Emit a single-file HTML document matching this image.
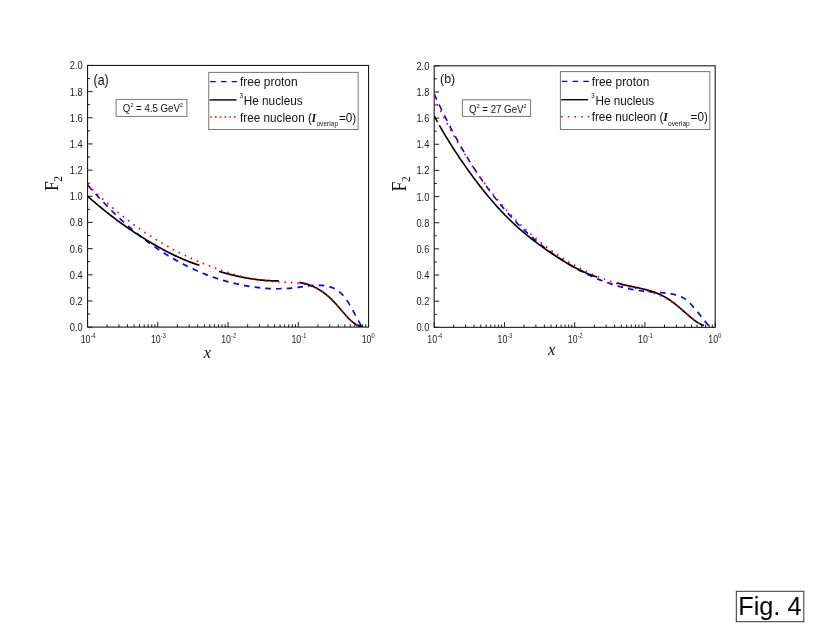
<!DOCTYPE html>
<html><head><meta charset="utf-8"><title>Fig. 4</title>
<style>
html,body{margin:0;padding:0;background:#fff;}
body{width:830px;height:642px;position:relative;overflow:hidden;font-family:"Liberation Sans",sans-serif;}
svg text{font-kerning:normal;}
</style></head><body>
<svg width="830" height="642" viewBox="0 0 830 642" style="position:absolute;left:0;top:0;will-change:transform">
<rect x="0" y="0" width="830" height="642" fill="#fff"/>
<g font-family="Liberation Sans, sans-serif">
<path d="M87.55,327.10h5M87.55,314.02h2.6M87.55,300.94h5M87.55,287.85h2.6M87.55,274.77h5M87.55,261.69h2.6M87.55,248.61h5M87.55,235.52h2.6M87.55,222.44h5M87.55,209.36h2.6M87.55,196.28h5M87.55,183.19h2.6M87.55,170.11h5M87.55,157.03h2.6M87.55,143.95h5M87.55,130.86h2.6M87.55,117.78h5M87.55,104.70h2.6M87.55,91.61h5M87.55,78.53h2.6M87.55,65.45h5M87.55,327.10v-5.2M107.13,327.10v-2.8M118.96,327.10v-2.8M127.47,327.10v-2.8M134.11,327.10v-2.8M139.56,327.10v-2.8M144.18,327.10v-2.8M148.20,327.10v-2.8M151.75,327.10v-2.8M154.92,327.10v-2.8M157.80,327.10v-5.2M177.38,327.10v-2.8M189.21,327.10v-2.8M197.72,327.10v-2.8M204.36,327.10v-2.8M209.81,327.10v-2.8M214.43,327.10v-2.8M218.45,327.10v-2.8M222.00,327.10v-2.8M225.17,327.10v-2.8M228.05,327.10v-5.2M247.63,327.10v-2.8M259.46,327.10v-2.8M267.97,327.10v-2.8M274.61,327.10v-2.8M280.06,327.10v-2.8M284.68,327.10v-2.8M288.70,327.10v-2.8M292.25,327.10v-2.8M295.42,327.10v-2.8M298.30,327.10v-5.2M317.88,327.10v-2.8M329.71,327.10v-2.8M338.22,327.10v-2.8M344.86,327.10v-2.8M350.31,327.10v-2.8M354.93,327.10v-2.8M358.95,327.10v-2.8M362.50,327.10v-2.8M365.67,327.10v-2.8M368.55,327.10v-5.2" stroke="#1a1a1a" stroke-width="1" fill="none"/>
<rect x="87.55" y="65.45" width="281.00" height="261.65" fill="none" stroke="#1a1a1a" stroke-width="1.1"/>
<text transform="translate(82.65 331.10) scale(0.93 1)" text-anchor="end" font-size="10" fill="#1a1a1a">0.0</text>
<text transform="translate(82.65 304.94) scale(0.93 1)" text-anchor="end" font-size="10" fill="#1a1a1a">0.2</text>
<text transform="translate(82.65 278.77) scale(0.93 1)" text-anchor="end" font-size="10" fill="#1a1a1a">0.4</text>
<text transform="translate(82.65 252.61) scale(0.93 1)" text-anchor="end" font-size="10" fill="#1a1a1a">0.6</text>
<text transform="translate(82.65 226.44) scale(0.93 1)" text-anchor="end" font-size="10" fill="#1a1a1a">0.8</text>
<text transform="translate(82.65 200.28) scale(0.93 1)" text-anchor="end" font-size="10" fill="#1a1a1a">1.0</text>
<text transform="translate(82.65 174.11) scale(0.93 1)" text-anchor="end" font-size="10" fill="#1a1a1a">1.2</text>
<text transform="translate(82.65 147.95) scale(0.93 1)" text-anchor="end" font-size="10" fill="#1a1a1a">1.4</text>
<text transform="translate(82.65 121.78) scale(0.93 1)" text-anchor="end" font-size="10" fill="#1a1a1a">1.6</text>
<text transform="translate(82.65 95.61) scale(0.93 1)" text-anchor="end" font-size="10" fill="#1a1a1a">1.8</text>
<text transform="translate(82.65 69.45) scale(0.93 1)" text-anchor="end" font-size="10" fill="#1a1a1a">2.0</text>
<text transform="translate(80.65 342.70) scale(0.88 1)" font-size="10" fill="#1a1a1a">10<tspan font-size="6.3" dy="-5.2" dx="0.2">-4</tspan></text>
<text transform="translate(150.90 342.70) scale(0.88 1)" font-size="10" fill="#1a1a1a">10<tspan font-size="6.3" dy="-5.2" dx="0.2">-3</tspan></text>
<text transform="translate(221.15 342.70) scale(0.88 1)" font-size="10" fill="#1a1a1a">10<tspan font-size="6.3" dy="-5.2" dx="0.2">-2</tspan></text>
<text transform="translate(291.40 342.70) scale(0.88 1)" font-size="10" fill="#1a1a1a">10<tspan font-size="6.3" dy="-5.2" dx="0.2">-1</tspan></text>
<text transform="translate(361.65 342.70) scale(0.88 1)" font-size="10" fill="#1a1a1a">10<tspan font-size="6.3" dy="-5.2" dx="0.2">0</tspan></text>
<path d="M434.20,327.35h5M434.20,314.27h2.6M434.20,301.20h5M434.20,288.12h2.6M434.20,275.04h5M434.20,261.96h2.6M434.20,248.89h5M434.20,235.81h2.6M434.20,222.73h5M434.20,209.65h2.6M434.20,196.58h5M434.20,183.50h2.6M434.20,170.42h5M434.20,157.34h2.6M434.20,144.27h5M434.20,131.19h2.6M434.20,118.11h5M434.20,105.03h2.6M434.20,91.96h5M434.20,78.88h2.6M434.20,65.80h5M434.20,327.35v-5.2M453.78,327.35v-2.8M465.61,327.35v-2.8M474.12,327.35v-2.8M480.76,327.35v-2.8M486.21,327.35v-2.8M490.83,327.35v-2.8M494.85,327.35v-2.8M498.40,327.35v-2.8M501.57,327.35v-2.8M504.45,327.35v-5.2M524.03,327.35v-2.8M535.86,327.35v-2.8M544.37,327.35v-2.8M551.01,327.35v-2.8M556.46,327.35v-2.8M561.08,327.35v-2.8M565.10,327.35v-2.8M568.65,327.35v-2.8M571.82,327.35v-2.8M574.70,327.35v-5.2M594.28,327.35v-2.8M606.11,327.35v-2.8M614.62,327.35v-2.8M621.26,327.35v-2.8M626.71,327.35v-2.8M631.33,327.35v-2.8M635.35,327.35v-2.8M638.90,327.35v-2.8M642.07,327.35v-2.8M644.95,327.35v-5.2M664.53,327.35v-2.8M676.36,327.35v-2.8M684.87,327.35v-2.8M691.51,327.35v-2.8M696.96,327.35v-2.8M701.58,327.35v-2.8M705.60,327.35v-2.8M709.15,327.35v-2.8M712.32,327.35v-2.8M715.20,327.35v-5.2" stroke="#1a1a1a" stroke-width="1" fill="none"/>
<rect x="434.20" y="65.80" width="281.00" height="261.55" fill="none" stroke="#1a1a1a" stroke-width="1.1"/>
<text transform="translate(429.30 331.35) scale(0.93 1)" text-anchor="end" font-size="10" fill="#1a1a1a">0.0</text>
<text transform="translate(429.30 305.20) scale(0.93 1)" text-anchor="end" font-size="10" fill="#1a1a1a">0.2</text>
<text transform="translate(429.30 279.04) scale(0.93 1)" text-anchor="end" font-size="10" fill="#1a1a1a">0.4</text>
<text transform="translate(429.30 252.89) scale(0.93 1)" text-anchor="end" font-size="10" fill="#1a1a1a">0.6</text>
<text transform="translate(429.30 226.73) scale(0.93 1)" text-anchor="end" font-size="10" fill="#1a1a1a">0.8</text>
<text transform="translate(429.30 200.58) scale(0.93 1)" text-anchor="end" font-size="10" fill="#1a1a1a">1.0</text>
<text transform="translate(429.30 174.42) scale(0.93 1)" text-anchor="end" font-size="10" fill="#1a1a1a">1.2</text>
<text transform="translate(429.30 148.27) scale(0.93 1)" text-anchor="end" font-size="10" fill="#1a1a1a">1.4</text>
<text transform="translate(429.30 122.11) scale(0.93 1)" text-anchor="end" font-size="10" fill="#1a1a1a">1.6</text>
<text transform="translate(429.30 95.96) scale(0.93 1)" text-anchor="end" font-size="10" fill="#1a1a1a">1.8</text>
<text transform="translate(429.30 69.80) scale(0.93 1)" text-anchor="end" font-size="10" fill="#1a1a1a">2.0</text>
<text transform="translate(427.30 342.95) scale(0.88 1)" font-size="10" fill="#1a1a1a">10<tspan font-size="6.3" dy="-5.2" dx="0.2">-4</tspan></text>
<text transform="translate(497.55 342.95) scale(0.88 1)" font-size="10" fill="#1a1a1a">10<tspan font-size="6.3" dy="-5.2" dx="0.2">-3</tspan></text>
<text transform="translate(567.80 342.95) scale(0.88 1)" font-size="10" fill="#1a1a1a">10<tspan font-size="6.3" dy="-5.2" dx="0.2">-2</tspan></text>
<text transform="translate(638.05 342.95) scale(0.88 1)" font-size="10" fill="#1a1a1a">10<tspan font-size="6.3" dy="-5.2" dx="0.2">-1</tspan></text>
<text transform="translate(708.30 342.95) scale(0.88 1)" font-size="10" fill="#1a1a1a">10<tspan font-size="6.3" dy="-5.2" dx="0.2">0</tspan></text>
</g>
<clipPath id="ca"><rect x="87.55" y="65.45" width="281.0" height="262.05"/></clipPath>
<clipPath id="cb"><rect x="434.2" y="65.8" width="281.00000000000006" height="261.95"/></clipPath>
<g clip-path="url(#ca)"><g transform="scale(0.88 1)">
<path d="M100.00,185.37 L101.96,187.35 L103.91,189.31 L105.87,191.25 L107.83,193.17 L109.78,195.06 L111.74,196.94 L113.70,198.79 L115.65,200.62 L117.61,202.42 L119.57,204.21 L121.53,205.98 L123.48,207.72 L125.44,209.45 L127.40,211.15 L129.35,212.83 L131.31,214.49 L133.27,216.13 L135.22,217.75 L137.18,219.35 L139.14,220.93 L141.09,222.49 L143.05,224.02 L145.01,225.54 L146.96,227.04 L148.92,228.52 L150.88,229.97 L152.83,231.41 L154.79,232.83 L156.75,234.22 L158.70,235.60 L160.66,236.96 L162.62,238.30 L164.58,239.62 L166.53,240.92 L168.49,242.20 L170.45,243.46 L172.40,244.70 L174.36,245.92 L176.32,247.13 L178.27,248.31 L180.23,249.48 L182.19,250.63 L184.14,251.76 L186.10,252.87 L188.06,253.96 L190.01,255.03 L191.97,256.09 L193.93,257.12 L195.88,258.14 L197.84,259.14 L199.80,260.12 L201.76,261.09 L203.71,262.03 L205.67,262.96 L207.63,263.88 L209.58,264.77 L211.54,265.64 L213.50,266.50 L215.45,267.34 L217.41,268.17 L219.37,268.97 L221.32,269.76 L223.28,270.54 L225.24,271.29 L227.19,272.03 L229.15,272.75 L231.11,273.46 L233.06,274.15 L235.02,274.82 L236.98,275.47 L238.94,276.11 L240.89,276.73 L242.85,277.34 L244.81,277.93 L246.76,278.50 L248.72,279.06 L250.68,279.60 L252.63,280.13 L254.59,280.64 L256.55,281.14 L258.50,281.62 L260.46,282.08 L262.42,282.53 L264.37,282.96 L266.33,283.38 L268.29,283.78 L270.24,284.17 L272.20,284.54 L274.16,284.90 L276.11,285.24 L278.07,285.57 L280.03,285.88 L281.99,286.18 L283.94,286.46 L285.90,286.73 L287.86,286.98 L289.81,287.22 L291.77,287.44 L293.73,287.64 L295.68,287.83 L297.64,288.00 L299.60,288.16 L301.55,288.29 L303.51,288.41 L305.47,288.52 L307.42,288.60 L309.38,288.67 L311.34,288.72 L313.29,288.75 L315.25,288.76 L317.21,288.76 L319.17,288.73 L321.12,288.69 L323.08,288.62 L325.04,288.54 L326.99,288.44 L328.95,288.31 L330.91,288.17 L332.86,288.00 L334.82,287.82 L336.78,287.61 L338.73,287.39 L340.69,287.15 L342.65,286.90 L344.60,286.65 L346.56,286.41 L348.52,286.17 L350.47,285.95 L352.43,285.75 L354.39,285.58 L356.35,285.44 L358.30,285.34 L360.26,285.29 L362.22,285.29 L364.17,285.34 L366.13,285.45 L368.09,285.63 L370.04,285.89 L372.00,286.22 L373.96,286.64 L375.91,287.16 L377.87,287.78 L379.83,288.54 L381.78,289.45 L383.74,290.54 L385.70,291.84 L387.65,293.36 L389.61,295.12 L391.57,297.16 L393.52,299.49 L395.48,302.10 L397.44,304.93 L399.40,307.93 L401.35,311.05 L403.31,314.25 L405.27,317.46 L407.22,320.63 L409.18,323.72 L411.14,326.67" fill="none" stroke="#0000ff" stroke-width="1.72" stroke-dasharray="6.4 5.78"/>
<path d="M100.00,196.50 L100.80,197.12 L101.59,197.74 L102.39,198.36 L103.18,198.98 L103.98,199.59 L104.78,200.20 L105.57,200.81 L106.37,201.41 L107.17,202.02 L107.96,202.62 L108.76,203.21 L109.55,203.81 L110.35,204.40 L111.15,204.99 L111.94,205.57 L112.74,206.16 L113.53,206.74 L114.33,207.32 L115.13,207.89 L115.92,208.47 L116.72,209.04 L117.52,209.60 L118.31,210.17 L119.11,210.73 L119.90,211.29 L120.70,211.85 L121.50,212.41 L122.29,212.96 L123.09,213.51 L123.89,214.06 L124.68,214.60 L125.48,215.15 L126.27,215.69 L127.07,216.23 L127.87,216.76 L128.66,217.30 L129.46,217.83 L130.25,218.35 L131.05,218.88 L131.85,219.40 L132.64,219.93 L133.44,220.44 L134.24,220.96 L135.03,221.48 L135.83,221.99 L136.62,222.50 L137.42,223.00 L138.22,223.51 L139.01,224.01 L139.81,224.51 L140.60,225.01 L141.40,225.50 L142.20,226.00 L142.99,226.49 L143.79,226.98 L144.59,227.46 L145.38,227.95 L146.18,228.43 L146.97,228.91 L147.77,229.39 L148.57,229.86 L149.36,230.34 L150.16,230.81 L150.95,231.28 L151.75,231.74 L152.55,232.21 L153.34,232.67 L154.14,233.13 L154.94,233.59 L155.73,234.05 L156.53,234.50 L157.32,234.95 L158.12,235.40 L158.92,235.85 L159.71,236.29 L160.51,236.74 L161.31,237.18 L162.10,237.62 L162.90,238.06 L163.69,238.49 L164.49,238.92 L165.29,239.36 L166.08,239.79 L166.88,240.21 L167.67,240.64 L168.47,241.06 L169.27,241.48 L170.06,241.90 L170.86,242.32 L171.66,242.73 L172.45,243.15 L173.25,243.56 L174.04,243.97 L174.84,244.38 L175.64,244.78 L176.43,245.18 L177.23,245.59 L178.02,245.98 L178.82,246.38 L179.62,246.78 L180.41,247.17 L181.21,247.56 L182.01,247.95 L182.80,248.33 L183.60,248.71 L184.39,249.09 L185.19,249.47 L185.99,249.85 L186.78,250.22 L187.58,250.59 L188.37,250.96 L189.17,251.33 L189.97,251.69 L190.76,252.05 L191.56,252.41 L192.36,252.77 L193.15,253.12 L193.95,253.47 L194.74,253.82 L195.54,254.16 L196.34,254.50 L197.13,254.84 L197.93,255.18 L198.72,255.51 L199.52,255.85 L200.32,256.17 L201.11,256.50 L201.91,256.82 L202.71,257.14 L203.50,257.46 L204.30,257.77 L205.09,258.08 L205.89,258.39 L206.69,258.69 L207.48,259.00 L208.28,259.29 L209.08,259.59 L209.87,259.88 L210.67,260.17 L211.46,260.46 L212.26,260.74 L213.06,261.02 L213.85,261.29 L214.65,261.57 L215.44,261.83 L216.24,262.10 L217.04,262.36 L217.83,262.62 L218.63,262.88 L219.43,263.13 L220.22,263.38 L221.02,263.62 L221.81,263.87 L222.61,264.10 L223.41,264.34 L224.20,264.57 L225.00,264.80 L225.79,265.02 L226.59,265.24" fill="none" stroke="#000000" stroke-width="1.72" />
<path d="M249.09,271.41 L249.52,271.53 L249.94,271.64 L250.37,271.75 L250.79,271.86 L251.22,271.97 L251.65,272.07 L252.07,272.18 L252.50,272.29 L252.92,272.40 L253.35,272.50 L253.78,272.61 L254.20,272.71 L254.63,272.82 L255.05,272.92 L255.48,273.03 L255.91,273.13 L256.33,273.23 L256.76,273.33 L257.18,273.44 L257.61,273.54 L258.04,273.64 L258.46,273.74 L258.89,273.84 L259.31,273.93 L259.74,274.03 L260.17,274.13 L260.59,274.23 L261.02,274.32 L261.44,274.42 L261.87,274.51 L262.30,274.61 L262.72,274.70 L263.15,274.79 L263.57,274.89 L264.00,274.98 L264.43,275.07 L264.85,275.16 L265.28,275.25 L265.70,275.34 L266.13,275.43 L266.56,275.52 L266.98,275.61 L267.41,275.69 L267.83,275.78 L268.26,275.87 L268.68,275.95 L269.11,276.04 L269.54,276.12 L269.96,276.20 L270.39,276.29 L270.81,276.37 L271.24,276.45 L271.67,276.53 L272.09,276.61 L272.52,276.69 L272.94,276.77 L273.37,276.85 L273.80,276.92 L274.22,277.00 L274.65,277.08 L275.07,277.15 L275.50,277.23 L275.93,277.30 L276.35,277.37 L276.78,277.45 L277.20,277.52 L277.63,277.59 L278.06,277.66 L278.48,277.73 L278.91,277.80 L279.33,277.87 L279.76,277.94 L280.19,278.00 L280.61,278.07 L281.04,278.14 L281.46,278.20 L281.89,278.27 L282.32,278.33 L282.74,278.39 L283.17,278.45 L283.59,278.52 L284.02,278.58 L284.45,278.64 L284.87,278.70 L285.30,278.75 L285.72,278.81 L286.15,278.87 L286.58,278.93 L287.00,278.98 L287.43,279.04 L287.85,279.09 L288.28,279.14 L288.70,279.20 L289.13,279.25 L289.56,279.30 L289.98,279.35 L290.41,279.40 L290.83,279.45 L291.26,279.50 L291.69,279.55 L292.11,279.59 L292.54,279.64 L292.96,279.68 L293.39,279.73 L293.82,279.77 L294.24,279.81 L294.67,279.86 L295.09,279.90 L295.52,279.94 L295.95,279.98 L296.37,280.02 L296.80,280.06 L297.22,280.09 L297.65,280.13 L298.08,280.17 L298.50,280.20 L298.93,280.23 L299.35,280.27 L299.78,280.30 L300.21,280.33 L300.63,280.36 L301.06,280.39 L301.48,280.42 L301.91,280.45 L302.34,280.48 L302.76,280.51 L303.19,280.53 L303.61,280.56 L304.04,280.58 L304.47,280.60 L304.89,280.63 L305.32,280.65 L305.74,280.67 L306.17,280.69 L306.60,280.71 L307.02,280.73 L307.45,280.75 L307.87,280.76 L308.30,280.78 L308.72,280.79 L309.15,280.81 L309.58,280.82 L310.00,280.83 L310.43,280.84 L310.85,280.86 L311.28,280.87 L311.71,280.87 L312.13,280.88 L312.56,280.89 L312.98,280.90 L313.41,280.90 L313.84,280.91 L314.26,280.91 L314.69,280.91 L315.11,280.91 L315.54,280.92 L315.97,280.92 L316.39,280.91 L316.82,280.91" fill="none" stroke="#000000" stroke-width="1.72" />
<path d="M340.00,282.50 L340.45,282.55 L340.89,282.60 L341.34,282.66 L341.78,282.72 L342.23,282.78 L342.68,282.85 L343.12,282.92 L343.57,282.99 L344.01,283.07 L344.46,283.15 L344.91,283.24 L345.35,283.32 L345.80,283.41 L346.24,283.51 L346.69,283.61 L347.14,283.71 L347.58,283.81 L348.03,283.92 L348.47,284.04 L348.92,284.15 L349.37,284.27 L349.81,284.40 L350.26,284.52 L350.70,284.66 L351.15,284.79 L351.60,284.93 L352.04,285.07 L352.49,285.22 L352.93,285.37 L353.38,285.52 L353.83,285.68 L354.27,285.84 L354.72,286.01 L355.16,286.18 L355.61,286.35 L356.05,286.53 L356.50,286.71 L356.95,286.89 L357.39,287.08 L357.84,287.27 L358.28,287.47 L358.73,287.67 L359.18,287.88 L359.62,288.09 L360.07,288.30 L360.51,288.52 L360.96,288.74 L361.41,288.97 L361.85,289.20 L362.30,289.43 L362.74,289.67 L363.19,289.91 L363.64,290.16 L364.08,290.41 L364.53,290.66 L364.97,290.92 L365.42,291.19 L365.87,291.45 L366.31,291.73 L366.76,292.00 L367.20,292.28 L367.65,292.57 L368.10,292.86 L368.54,293.15 L368.99,293.45 L369.43,293.76 L369.88,294.06 L370.33,294.38 L370.77,294.69 L371.22,295.01 L371.66,295.34 L372.11,295.67 L372.56,296.00 L373.00,296.34 L373.45,296.69 L373.89,297.04 L374.34,297.39 L374.79,297.75 L375.23,298.11 L375.68,298.48 L376.12,298.85 L376.57,299.23 L377.02,299.61 L377.46,300.00 L377.91,300.39 L378.35,300.78 L378.80,301.18 L379.25,301.59 L379.69,302.00 L380.14,302.41 L380.58,302.83 L381.03,303.26 L381.48,303.69 L381.92,304.12 L382.37,304.56 L382.81,305.00 L383.26,305.45 L383.70,305.90 L384.15,306.35 L384.60,306.80 L385.04,307.25 L385.49,307.71 L385.93,308.17 L386.38,308.63 L386.83,309.09 L387.27,309.55 L387.72,310.01 L388.16,310.47 L388.61,310.93 L389.06,311.39 L389.50,311.85 L389.95,312.31 L390.39,312.76 L390.84,313.21 L391.29,313.66 L391.73,314.11 L392.18,314.56 L392.62,315.00 L393.07,315.44 L393.52,315.87 L393.96,316.30 L394.41,316.73 L394.85,317.15 L395.30,317.56 L395.75,317.97 L396.19,318.38 L396.64,318.78 L397.08,319.17 L397.53,319.55 L397.98,319.93 L398.42,320.30 L398.87,320.66 L399.31,321.02 L399.76,321.36 L400.21,321.70 L400.65,322.03 L401.10,322.35 L401.54,322.66 L401.99,322.96 L402.44,323.25 L402.88,323.53 L403.33,323.80 L403.77,324.05 L404.22,324.30 L404.67,324.53 L405.11,324.75 L405.56,324.96 L406.00,325.16 L406.45,325.34 L406.90,325.51 L407.34,325.67 L407.79,325.81 L408.23,325.94 L408.68,326.05 L409.13,326.15 L409.57,326.23 L410.02,326.30 L410.46,326.35 L410.91,326.39" fill="none" stroke="#000000" stroke-width="1.72" />
<path d="M100.00,184.83 L101.96,186.56 L103.91,188.28 L105.87,189.97 L107.82,191.65 L109.78,193.30 L111.73,194.94 L113.69,196.56 L115.64,198.16 L117.60,199.74 L119.55,201.30 L121.51,202.84 L123.46,204.37 L125.42,205.87 L127.38,207.36 L129.33,208.83 L131.29,210.28 L133.24,211.72 L135.20,213.13 L137.15,214.53 L139.11,215.91 L141.06,217.28 L143.02,218.63 L144.97,219.96 L146.93,221.27 L148.89,222.57 L150.84,223.85 L152.80,225.11 L154.75,226.36 L156.71,227.59 L158.66,228.80 L160.62,230.00 L162.57,231.18 L164.53,232.35 L166.48,233.50 L168.44,234.64 L170.39,235.76 L172.35,236.86 L174.31,237.95 L176.26,239.03 L178.22,240.09 L180.17,241.13 L182.13,242.16 L184.08,243.18 L186.04,244.18 L187.99,245.17 L189.95,246.14 L191.90,247.10 L193.86,248.05 L195.81,248.98 L197.77,249.90 L199.73,250.80 L201.68,251.69 L203.64,252.57 L205.59,253.43 L207.55,254.28 L209.50,255.12 L211.46,255.95 L213.41,256.76 L215.37,257.56 L217.32,258.35 L219.28,259.12 L221.23,259.89 L223.19,260.64 L225.15,261.38 L227.10,262.10 L229.06,262.82 L231.01,263.52 L232.97,264.22 L234.92,264.90 L236.88,265.57 L238.83,266.23 L240.79,266.88 L242.74,267.51 L244.70,268.14 L246.66,268.76 L248.61,269.36 L250.57,269.96 L252.52,270.54 L254.48,271.12 L256.43,271.68 L258.39,272.24 L260.34,272.78 L262.30,273.32 L264.25,273.84 L266.21,274.36 L268.16,274.86 L270.12,275.35 L272.08,275.82 L274.03,276.28 L275.99,276.73 L277.94,277.16 L279.90,277.57 L281.85,277.97 L283.81,278.35 L285.76,278.71 L287.72,279.06 L289.67,279.38 L291.63,279.69 L293.58,279.98 L295.54,280.24 L297.50,280.48 L299.45,280.71 L301.41,280.90 L303.36,281.08 L305.32,281.23 L307.27,281.37 L309.23,281.49 L311.18,281.59 L313.14,281.69 L315.09,281.77 L317.05,281.86 L319.01,281.94 L320.96,282.02 L322.92,282.10 L324.87,282.19 L326.83,282.29 L328.78,282.40 L330.74,282.53 L332.69,282.67 L334.65,282.84 L336.60,283.02 L338.56,283.24 L340.51,283.48 L342.47,283.75 L344.43,284.06 L346.38,284.41 L348.34,284.80 L350.29,285.23 L352.25,285.73 L354.20,286.29 L356.16,286.92 L358.11,287.64 L360.07,288.45 L362.02,289.36 L363.98,290.39 L365.93,291.53 L367.89,292.78 L369.85,294.13 L371.80,295.58 L373.76,297.13 L375.71,298.76 L377.67,300.48 L379.62,302.28 L381.58,304.14 L383.53,306.06 L385.49,308.02 L387.44,309.99 L389.40,311.95 L391.36,313.89 L393.31,315.77 L395.27,317.57 L397.22,319.29 L399.18,320.88 L401.13,322.34 L403.09,323.64 L405.04,324.75 L407.00,325.66 L408.95,326.35 L410.91,326.79" fill="none" stroke="#ff0000" stroke-width="1.95" stroke-dasharray="0.01 7.32" stroke-linecap="round"/>
</g></g>
<g clip-path="url(#cb)"><g transform="scale(0.88 1)">
<path d="M493.41,93.86 L495.38,97.65 L497.34,101.38 L499.31,105.05 L501.28,108.67 L503.25,112.25 L505.21,115.77 L507.18,119.23 L509.15,122.65 L511.12,126.02 L513.08,129.34 L515.05,132.61 L517.02,135.83 L518.99,139.00 L520.95,142.12 L522.92,145.20 L524.89,148.23 L526.86,151.21 L528.83,154.15 L530.79,157.04 L532.76,159.89 L534.73,162.69 L536.70,165.45 L538.66,168.17 L540.63,170.84 L542.60,173.47 L544.57,176.05 L546.53,178.60 L548.50,181.10 L550.47,183.57 L552.44,185.99 L554.40,188.38 L556.37,190.72 L558.34,193.03 L560.31,195.30 L562.27,197.53 L564.24,199.72 L566.21,201.88 L568.18,204.00 L570.14,206.08 L572.11,208.13 L574.08,210.14 L576.05,212.12 L578.01,214.07 L579.98,215.98 L581.95,217.86 L583.92,219.70 L585.88,221.52 L587.85,223.30 L589.82,225.05 L591.79,226.77 L593.75,228.46 L595.72,230.12 L597.69,231.76 L599.66,233.36 L601.62,234.94 L603.59,236.48 L605.56,238.00 L607.53,239.50 L609.49,240.96 L611.46,242.40 L613.43,243.82 L615.40,245.21 L617.36,246.58 L619.33,247.92 L621.30,249.24 L623.27,250.54 L625.24,251.81 L627.20,253.06 L629.17,254.29 L631.14,255.50 L633.11,256.69 L635.07,257.86 L637.04,259.01 L639.01,260.13 L640.98,261.25 L642.94,262.34 L644.91,263.41 L646.88,264.46 L648.85,265.49 L650.81,266.51 L652.78,267.50 L654.75,268.48 L656.72,269.43 L658.68,270.37 L660.65,271.29 L662.62,272.18 L664.59,273.06 L666.55,273.92 L668.52,274.76 L670.49,275.58 L672.46,276.38 L674.42,277.16 L676.39,277.92 L678.36,278.66 L680.33,279.38 L682.29,280.08 L684.26,280.76 L686.23,281.43 L688.20,282.07 L690.16,282.69 L692.13,283.29 L694.10,283.88 L696.07,284.44 L698.03,284.98 L700.00,285.51 L701.97,286.01 L703.94,286.49 L705.90,286.96 L707.87,287.40 L709.84,287.83 L711.81,288.23 L713.78,288.61 L715.74,288.98 L717.71,289.32 L719.68,289.64 L721.65,289.95 L723.61,290.23 L725.58,290.49 L727.55,290.74 L729.52,290.96 L731.48,291.16 L733.45,291.35 L735.42,291.51 L737.39,291.66 L739.35,291.79 L741.32,291.92 L743.29,292.05 L745.26,292.17 L747.22,292.30 L749.19,292.44 L751.16,292.59 L753.13,292.75 L755.09,292.93 L757.06,293.14 L759.03,293.37 L761.00,293.64 L762.96,293.94 L764.93,294.27 L766.90,294.65 L768.87,295.10 L770.83,295.62 L772.80,296.26 L774.77,297.04 L776.74,297.98 L778.70,299.11 L780.67,300.45 L782.64,301.99 L784.61,303.69 L786.57,305.55 L788.54,307.52 L790.51,309.59 L792.48,311.73 L794.44,313.91 L796.41,316.12 L798.38,318.32 L800.35,320.50 L802.31,322.62 L804.28,324.67 L806.25,326.61" fill="none" stroke="#0000ff" stroke-width="1.72" stroke-dasharray="6.4 5.78"/>
<path d="M493.41,116.04 L494.57,117.92 L495.73,119.78 L496.90,121.62 L497.16,122.04M499.20,125.23 L499.22,125.26 L500.38,127.05 L501.54,128.82 L502.71,130.58 L503.87,132.31 L505.03,134.04 L506.19,135.75 L507.35,137.44 L508.52,139.11 L509.68,140.77 L510.84,142.42 L512.00,144.05 L513.16,145.67 L514.33,147.28 L515.49,148.87 L516.65,150.45 L517.81,152.01 L518.98,153.56 L520.14,155.10 L521.30,156.63 L522.46,158.15 L523.62,159.66 L524.79,161.15 L525.95,162.64 L527.11,164.11 L528.27,165.58 L529.43,167.03 L530.60,168.48 L531.76,169.92 L532.92,171.34 L534.08,172.76 L535.24,174.17 L536.41,175.56 L537.57,176.95 L538.73,178.33 L539.89,179.70 L541.05,181.06 L542.22,182.40 L543.38,183.74 L544.54,185.07 L545.70,186.39 L546.87,187.69 L548.03,188.99 L549.19,190.28 L550.35,191.55 L551.51,192.82 L552.68,194.07 L553.84,195.32 L555.00,196.55 L556.16,197.77 L557.32,198.99 L558.49,200.19 L559.65,201.38 L560.81,202.56 L561.97,203.73 L563.13,204.89 L564.30,206.03 L565.46,207.17 L566.62,208.29 L567.78,209.41 L568.95,210.51 L570.11,211.60 L571.27,212.68 L572.43,213.75 L573.59,214.81 L574.76,215.85 L575.92,216.89 L577.08,217.91 L578.24,218.92 L579.40,219.92 L580.57,220.91 L581.73,221.89 L582.89,222.86 L584.05,223.82 L585.21,224.77 L586.38,225.71 L587.54,226.63 L588.70,227.55 L589.86,228.46 L591.02,229.36 L592.19,230.25 L593.35,231.14 L594.51,232.01 L595.67,232.87 L596.84,233.73 L598.00,234.58 L599.16,235.42 L600.32,236.25 L601.48,237.07 L602.65,237.88 L603.81,238.69 L604.97,239.49 L606.13,240.28 L607.29,241.07 L608.46,241.85 L609.62,242.62 L610.78,243.38 L611.94,244.14 L613.10,244.89 L614.27,245.64 L615.43,246.37 L616.59,247.11 L617.75,247.83 L618.92,248.56 L620.08,249.27 L621.24,249.98 L622.40,250.69 L623.56,251.39 L624.73,252.08 L625.89,252.77 L627.05,253.46 L628.21,254.14 L629.37,254.82 L630.54,255.49 L631.70,256.16 L632.86,256.82 L634.02,257.48 L635.18,258.14 L636.35,258.79 L637.51,259.43 L638.67,260.07 L639.83,260.71 L640.99,261.34 L642.16,261.96 L643.32,262.58 L644.48,263.19 L645.64,263.79 L646.81,264.38 L647.97,264.97 L649.13,265.55 L650.29,266.13 L651.45,266.69 L652.62,267.25 L653.78,267.80 L654.94,268.34 L656.10,268.87 L657.26,269.39 L658.43,269.90 L659.59,270.40 L660.75,270.90 L661.91,271.38 L663.07,271.85 L664.24,272.31 L665.40,272.76 L666.56,273.20 L667.72,273.63 L668.89,274.04 L670.05,274.45 L671.21,274.84 L672.37,275.22 L673.53,275.59 L674.70,275.94 L675.86,276.28 L677.02,276.61 L678.18,276.93" fill="none" stroke="#000000" stroke-width="1.72" />
<path d="M701.25,282.94 L701.87,283.10 L702.49,283.26 L703.11,283.42 L703.73,283.58 L704.35,283.73 L704.97,283.88 L705.59,284.03 L706.21,284.17 L706.83,284.31 L707.45,284.45 L708.07,284.59 L708.69,284.72 L709.31,284.85 L709.93,284.98 L710.56,285.11 L711.18,285.24 L711.80,285.36 L712.42,285.49 L713.04,285.61 L713.66,285.73 L714.28,285.85 L714.90,285.96 L715.52,286.08 L716.14,286.20 L716.76,286.31 L717.38,286.42 L718.00,286.54 L718.62,286.65 L719.24,286.76 L719.86,286.88 L720.48,286.99 L721.10,287.10 L721.72,287.22 L722.34,287.33 L722.96,287.44 L723.58,287.56 L724.20,287.67 L724.82,287.79 L725.44,287.90 L726.06,288.02 L726.68,288.14 L727.30,288.26 L727.93,288.38 L728.55,288.50 L729.17,288.63 L729.79,288.75 L730.41,288.88 L731.03,289.01 L731.65,289.14 L732.27,289.28 L732.89,289.41 L733.51,289.55 L734.13,289.69 L734.75,289.84 L735.37,289.99 L735.99,290.13 L736.61,290.29 L737.23,290.44 L737.85,290.60 L738.47,290.76 L739.09,290.93 L739.71,291.10 L740.33,291.27 L740.95,291.45 L741.57,291.63 L742.19,291.82 L742.81,292.01 L743.43,292.20 L744.05,292.40 L744.67,292.60 L745.30,292.81 L745.92,293.02 L746.54,293.23 L747.16,293.46 L747.78,293.68 L748.40,293.92 L749.02,294.15 L749.64,294.40 L750.26,294.65 L750.88,294.90 L751.50,295.16 L752.12,295.43 L752.74,295.70 L753.36,295.98 L753.98,296.26 L754.60,296.55 L755.22,296.85 L755.84,297.16 L756.46,297.47 L757.08,297.78 L757.70,298.11 L758.32,298.44 L758.94,298.78 L759.56,299.13 L760.18,299.48 L760.80,299.84 L761.42,300.21 L762.04,300.59 L762.67,300.98 L763.29,301.37 L763.91,301.77 L764.53,302.17 L765.15,302.58 L765.77,303.00 L766.39,303.43 L767.01,303.85 L767.63,304.29 L768.25,304.73 L768.87,305.17 L769.49,305.62 L770.11,306.07 L770.73,306.53 L771.35,306.99 L771.97,307.45 L772.59,307.92 L773.21,308.38 L773.83,308.85 L774.45,309.33 L775.07,309.80 L775.69,310.28 L776.31,310.76 L776.93,311.24 L777.55,311.71 L778.17,312.20 L778.79,312.68 L779.41,313.16 L780.04,313.63 L780.66,314.11 L781.28,314.59 L781.90,315.06 L782.52,315.53 L783.14,316.00 L783.76,316.47 L784.38,316.93 L785.00,317.38 L785.62,317.83 L786.24,318.27 L786.86,318.71 L787.48,319.14 L788.10,319.56 L788.72,319.97 L789.34,320.38 L789.96,320.78 L790.58,321.16 L791.20,321.54 L791.82,321.90 L792.44,322.26 L793.06,322.60 L793.68,322.93 L794.30,323.25 L794.92,323.55 L795.54,323.84 L796.16,324.12 L796.78,324.38 L797.40,324.63 L798.03,324.86 L798.65,325.07 L799.27,325.27 L799.89,325.45" fill="none" stroke="#000000" stroke-width="1.72" />
<path d="M493.75,98.31 L495.68,101.88 L497.60,105.40 L499.53,108.86 L501.45,112.27 L503.38,115.62 L505.30,118.92 L507.23,122.17 L509.15,125.37 L511.08,128.51 L513.00,131.61 L514.93,134.66 L516.85,137.65 L518.78,140.60 L520.71,143.51 L522.63,146.37 L524.56,149.18 L526.48,151.95 L528.41,154.67 L530.33,157.35 L532.26,159.99 L534.18,162.59 L536.11,165.15 L538.03,167.67 L539.96,170.15 L541.88,172.60 L543.81,175.00 L545.74,177.37 L547.66,179.71 L549.59,182.01 L551.51,184.27 L553.44,186.50 L555.36,188.71 L557.29,190.87 L559.21,193.01 L561.14,195.12 L563.06,197.20 L564.99,199.25 L566.91,201.27 L568.84,203.25 L570.77,205.21 L572.69,207.14 L574.62,209.05 L576.54,210.92 L578.47,212.76 L580.39,214.58 L582.32,216.37 L584.24,218.13 L586.17,219.87 L588.09,221.58 L590.02,223.26 L591.94,224.92 L593.87,226.55 L595.80,228.15 L597.72,229.73 L599.65,231.28 L601.57,232.81 L603.50,234.32 L605.42,235.80 L607.35,237.25 L609.27,238.68 L611.20,240.09 L613.12,241.48 L615.05,242.84 L616.97,244.18 L618.90,245.50 L620.83,246.79 L622.75,248.06 L624.68,249.31 L626.60,250.54 L628.53,251.75 L630.45,252.94 L632.38,254.11 L634.30,255.26 L636.23,256.38 L638.15,257.49 L640.08,258.57 L642.00,259.64 L643.93,260.69 L645.86,261.71 L647.78,262.72 L649.71,263.71 L651.63,264.68 L653.56,265.63 L655.48,266.56 L657.41,267.47 L659.33,268.37 L661.26,269.25 L663.18,270.10 L665.11,270.94 L667.03,271.76 L668.96,272.57 L670.89,273.36 L672.81,274.13 L674.74,274.88 L676.66,275.61 L678.59,276.33 L680.51,277.03 L682.44,277.72 L684.36,278.38 L686.29,279.04 L688.21,279.67 L690.14,280.29 L692.06,280.90 L693.99,281.48 L695.92,282.06 L697.84,282.61 L699.77,283.16 L701.69,283.68 L703.62,284.19 L705.54,284.69 L707.47,285.17 L709.39,285.64 L711.32,286.10 L713.24,286.54 L715.17,286.96 L717.09,287.37 L719.02,287.77 L720.95,288.16 L722.87,288.55 L724.80,288.93 L726.72,289.32 L728.65,289.71 L730.57,290.11 L732.50,290.52 L734.42,290.95 L736.35,291.40 L738.27,291.88 L740.20,292.38 L742.12,292.91 L744.05,293.47 L745.98,294.07 L747.90,294.72 L749.83,295.41 L751.75,296.14 L753.68,296.93 L755.60,297.78 L757.53,298.68 L759.45,299.65 L761.38,300.68 L763.30,301.79 L765.23,302.97 L767.15,304.22 L769.08,305.54 L771.01,306.92 L772.93,308.34 L774.86,309.80 L776.78,311.27 L778.71,312.74 L780.63,314.22 L782.56,315.67 L784.48,317.09 L786.41,318.47 L788.33,319.79 L790.26,321.04 L792.18,322.21 L794.11,323.29 L796.04,324.26 L797.96,325.11 L799.89,325.84" fill="none" stroke="#ff0000" stroke-width="1.95" stroke-dasharray="0.01 7.32" stroke-linecap="round"/>
</g></g>
<rect x="208.75" y="72.4" width="149.4" height="57.10" fill="#fff" stroke="#757575" stroke-width="1"/>
<path d="M210.15,81.60H237.15" stroke="#0000ff" stroke-width="1.4" stroke-dasharray="5.6 5.2"/>
<path d="M209.55,99.90H236.55" stroke="#000000" stroke-width="1.4"/>
<path d="M210.20,117.00H237.85" stroke="#ff0000" stroke-width="1.5" stroke-dasharray="1.6 3.17"/>
<g font-family="Liberation Sans, sans-serif" font-size="12.6" fill="#111">
<text transform="translate(240.05 86.10) scale(0.945 1)">free proton</text>
<text transform="translate(239.65 104.90) scale(0.933 1)"><tspan font-size="6.6" dy="-7">3</tspan><tspan dy="7" dx="0.8">He nucleus</tspan></text>
<text transform="translate(240.05 121.50) scale(0.933 1)">free nucleon (<tspan font-family="Liberation Serif, serif" font-weight="bold" font-style="italic" font-size="12.8" dx="-0.3">I</tspan><tspan font-size="7.1" dy="4.6" dx="0.2">overlap</tspan><tspan dy="-4.6" dx="0.9">=0)</tspan></text>
</g>
<rect x="560.40" y="71.6" width="149.4" height="57.90" fill="#fff" stroke="#757575" stroke-width="1"/>
<path d="M561.80,81.40H588.80" stroke="#0000ff" stroke-width="1.4" stroke-dasharray="5.6 5.2"/>
<path d="M561.20,99.70H588.20" stroke="#000000" stroke-width="1.4"/>
<path d="M561.10,116.80H589.50" stroke="#ff0000" stroke-width="1.5" stroke-dasharray="1.6 5.05"/>
<g font-family="Liberation Sans, sans-serif" font-size="12.6" fill="#111">
<text transform="translate(591.70 85.90) scale(0.945 1)">free proton</text>
<text transform="translate(591.30 104.70) scale(0.933 1)"><tspan font-size="6.6" dy="-7">3</tspan><tspan dy="7" dx="0.8">He nucleus</tspan></text>
<text transform="translate(591.70 121.30) scale(0.933 1)">free nucleon (<tspan font-family="Liberation Serif, serif" font-weight="bold" font-style="italic" font-size="12.8" dx="-0.3">I</tspan><tspan font-size="7.1" dy="4.6" dx="0.2">overlap</tspan><tspan dy="-4.6" dx="0.9">=0)</tspan></text>
</g>
<g font-family="Liberation Sans, sans-serif" fill="#111">
<text transform="translate(93.5 84.7) scale(0.9 1)" font-size="13.9">(a)</text>
<text transform="translate(440 83.2) scale(0.92 1)" font-size="13.5">(b)</text>
<rect x="116.1" y="99.4" width="70.8" height="17" fill="#fff" stroke="#777" stroke-width="1"/>
<text transform="translate(122.7 112.4) scale(0.9 1)" font-size="10.75">Q<tspan font-size="5.9" dy="-5" dx="0.2">2</tspan><tspan dy="5"> = 4.5 GeV</tspan><tspan font-size="5.9" dy="-5" dx="0.1">2</tspan></text>
<rect x="462.4" y="99.8" width="68.2" height="16.6" fill="#fff" stroke="#777" stroke-width="1"/>
<text transform="translate(469 113) scale(0.9 1)" font-size="10.75">Q<tspan font-size="5.9" dy="-5" dx="0.2">2</tspan><tspan dy="5"> = 27 GeV</tspan><tspan font-size="5.9" dy="-5" dx="0.1">2</tspan></text>
<rect x="736.3" y="591.3" width="67.5" height="30.4" fill="#fff" stroke="#333" stroke-width="1"/>
<text x="738.2" y="614.5" font-size="25.3" fill="#000">Fig. 4</text>
</g>
<g font-family="Liberation Serif, serif" fill="#111">
<text transform="translate(58.1,191.0) rotate(-90) scale(0.9 1)" font-size="19.6">F<tspan font-size="12.6" dy="4.3" dx="-0.6">2</tspan></text>
<text transform="translate(405.9,191.5) rotate(-90) scale(0.9 1)" font-size="19.9">F<tspan font-size="12.6" dy="4.3" dx="-0.6">2</tspan></text>
<text x="203.8" y="357.8" font-size="16.5" font-style="italic">x</text>
<text x="548" y="354.9" font-size="16.5" font-style="italic">x</text>
</g>
</svg>
</body></html>
